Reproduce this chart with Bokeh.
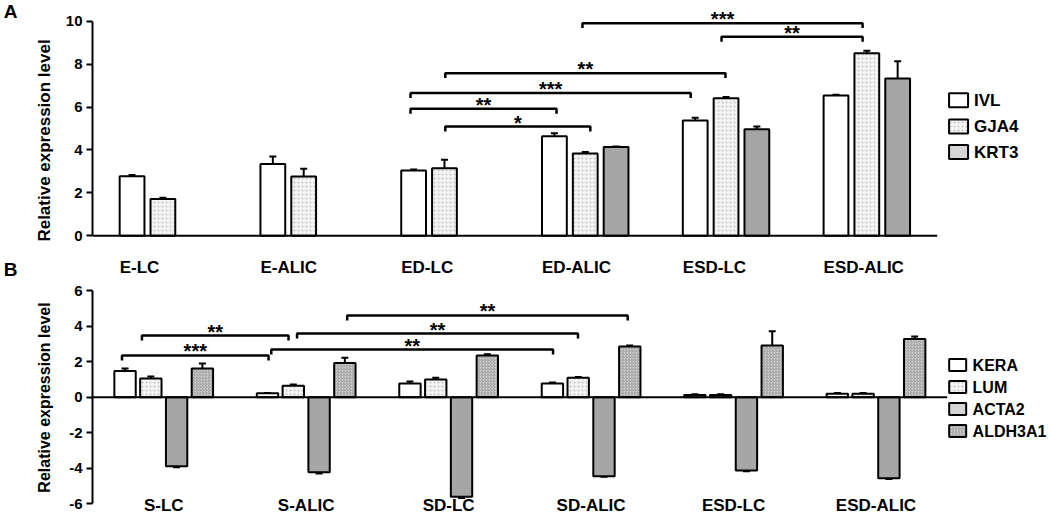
from bokeh.plotting import figure
from bokeh.models import (ColumnDataSource, Range1d, FixedTicker, Label, LinearAxis,
                          Whisker, TeeHead)
from bokeh.layouts import column
from bokeh.embed import file_html
from bokeh.resources import INLINE
from bokeh.core.properties import value

FONT = "Liberation Sans"

# ---------------- Panel A data ----------------
groups_a = ["E-LC", "E-ALIC", "ED-LC", "ED-ALIC", "ESD-LC", "ESD-ALIC"]
series_a = ["IVL", "GJA4", "KRT3"]
ivl = [2.78, 3.35, 3.04, 4.64, 5.37, 6.54]
ivl_err = [0.05, 0.35, 0.05, 0.14, 0.13, 0.03]
gja4 = [1.72, 2.76, 3.15, 3.83, 6.41, 8.51]
gja4_err = [0.05, 0.37, 0.39, 0.07, 0.06, 0.11]
krt3 = [None, None, None, 4.14, 4.97, 7.33]
krt3_err = [None, None, None, 0.02, 0.12, 0.80]
yticks_a = [0, 2, 4, 6, 8, 10]

sig_a_x0 = [2.006, 1.759, 1.759, 2.006, 2.98, 3.968]
sig_a_x1 = [3.036, 2.796, 3.749, 3.996, 4.97, 4.97]
sig_a_y = [5.09, 5.92, 6.65, 7.58, 9.91, 9.27]
sig_a_txt = ["*", "**", "***", "**", "***", "**"]

# ---------------- Panel B data ----------------
groups_b = ["S-LC", "S-ALIC", "SD-LC", "SD-ALIC", "ESD-LC", "ESD-ALIC"]
series_b = ["KERA", "LUM", "ACTA2", "ALDH3A1"]
kera = [1.47, 0.22, 0.77, 0.77, 0.13, 0.20]
kera_err = [0.14, 0.02, 0.12, 0.05, 0.03, 0.03]
lum = [1.05, 0.64, 1.00, 1.09, 0.13, 0.20]
lum_err = [0.12, 0.08, 0.10, 0.05, 0.03, 0.04]
acta2 = [-3.88, -4.22, -5.60, -4.44, -4.12, -4.56]
acta2_err = [0.06, 0.07, 0.07, 0.03, 0.05, 0.04]
aldh3a1 = [1.61, 1.92, 2.35, 2.85, 2.91, 3.28]
aldh3a1_err = [0.28, 0.30, 0.07, 0.06, 0.80, 0.14]
yticks_b = [-6, -4, -2, 0, 2, 4, 6]

sig_b_x0 = [-0.293, -0.153, 0.755, 0.936, 1.288]
sig_b_x1 = [0.736, 0.876, 2.733, 2.908, 3.257]
sig_b_y = [2.35, 3.47, 2.68, 3.58, 4.60]
sig_b_txt = ["***", "**", "**", "**", "**"]

panel_letters = ["A", "B"]

# ---------------- styles ----------------
WHITE = dict(fill_color="white")
DOTS = dict(fill_color="#f4f4f4", hatch_pattern="dot", hatch_color="#c4c4c4",
            hatch_scale=4, hatch_weight=1)
SOLID = dict(fill_color="#a6a6a6")
LIGHT = dict(fill_color="#d6d6d6")
HATCH = dict(fill_color="#d4d4d4", hatch_pattern="right_diagonal_line",
             hatch_color="#9a9a9a", hatch_scale=3, hatch_weight=1)

W = 1048


class Geo:
    """pixel <-> data helper for a panel (layout only)."""
    def __init__(self, x0_px, ppu_x, zero_py, ppu_y):
        self.x0_px, self.ppu_x = x0_px, ppu_x
        self.zero_py, self.ppu_y = zero_py, ppu_y

    def x(self, px):
        return (px - self.x0_px) / self.ppu_x - 0.5

    def y(self, py):
        return (self.zero_py - py) / self.ppu_y


def style_fig(p, yticks, title_size, standoff):
    p.xgrid.visible = False
    p.ygrid.visible = False
    p.xaxis.visible = False
    p.outline_line_color = None
    p.background_fill_color = "white"
    p.border_fill_color = "white"
    ax = p.yaxis[0]
    ax.ticker = FixedTicker(ticks=yticks)
    ax.major_label_overrides = {t: str(t) for t in yticks}
    ax.bounds = (yticks[0], yticks[-1])
    ax.axis_line_width = 2
    ax.major_tick_line_width = 2
    ax.major_tick_in = 0
    ax.major_tick_out = 6
    ax.minor_tick_line_color = None
    ax.major_label_standoff = 4
    ax.major_label_text_font = FONT
    ax.major_label_text_font_style = "bold"
    ax.major_label_text_font_size = "15px"
    ax.major_label_text_color = "black"
    ax.axis_label = "Relative expression level"
    ax.axis_label_text_font = FONT
    ax.axis_label_text_font_style = "bold"
    ax.axis_label_text_font_size = title_size
    ax.axis_label_text_color = "black"
    ax.axis_label_standoff = standoff


def add_series(p, vals, errs, offset, width, style):
    xs, tops, lo, hi = [], [], [], []
    for i, (v, e) in enumerate(zip(vals, errs)):
        if v is None:
            continue
        xs.append(i + offset)
        tops.append(v)
        lo.append(v - e)
        hi.append(v + e)
    src = ColumnDataSource(dict(x=xs, top=tops, lo=lo, hi=hi))
    p.vbar(x="x", top="top", bottom=0, width=width, source=src,
           line_color="black", line_width=2, **style)
    w = Whisker(base="x", upper="hi", lower="lo", source=src, dimension="height",
                line_width=2, line_color="black",
                upper_head=TeeHead(size=7, line_width=2, line_color="black"),
                lower_head=TeeHead(size=7, line_width=2, line_color="black"))
    p.add_layout(w)


def add_brackets(p, x0s, x1s, ys, txts, leg):
    xs = [[a, a, b, b] for a, b in zip(x0s, x1s)]
    yy = [[y - leg, y, y, y - leg] for y in ys]
    p.multi_line(xs=xs, ys=yy, line_color="black", line_width=2.5)
    src = ColumnDataSource(dict(x=[(a + b) / 2 for a, b in zip(x0s, x1s)], y=ys, t=txts))
    p.text(x="x", y="y", text="t", source=src, text_align="center",
           text_baseline="alphabetic", y_offset=-4, text_font=value(FONT),
           text_font_style="bold", text_font_size="20px", text_color="black")


def add_legend(p, g, names, styles, box_cx, text_x, centers_py, bw, bh, fs):
    for name, st, cy in zip(names, styles, centers_py):
        p.rect(x=[g.x(box_cx)], y=[g.y(cy)], width=bw, height=bh,
               width_units="screen", height_units="screen",
               line_color="black", line_width=2, **st)
        p.text(x=[g.x(text_x)], y=[g.y(cy)], text=[name], text_align="left",
               text_baseline="middle", text_font=value(FONT), text_font_style="bold",
               text_font_size=fs, text_color="black")


def text_label(p, x, y, t, align, size="17px"):
    p.add_layout(Label(x=x, y=y, text=t, text_align=align, text_baseline="middle",
                       text_font=FONT, text_font_style="bold", text_font_size=size,
                       text_color="black"))


# ================= Panel A =================
HA = 280
gA = Geo(x0_px=86, ppu_x=141.67, zero_py=235.3, ppu_y=21.46)
pA = figure(width=W, height=HA, output_backend="svg", toolbar_location=None,
            x_range=Range1d(gA.x(86), gA.x(W)), y_range=Range1d(gA.y(HA), gA.y(0)),
            min_border_left=86, min_border_right=0, min_border_top=0,
            min_border_bottom=0)
style_fig(pA, yticks_a, "17px", 9)

# panel letters through an extra (line-less) left axis
let_ax = LinearAxis(ticker=FixedTicker(ticks=[gA.y(9), gA.y(269)]),
                    major_label_overrides={gA.y(9): panel_letters[0],
                                           gA.y(269): panel_letters[1]},
                    axis_line_color=None, major_tick_line_color=None,
                    minor_tick_line_color=None, major_tick_in=0, major_tick_out=0,
                    major_label_standoff=14, major_label_text_font=FONT,
                    major_label_text_font_style="bold",
                    major_label_text_font_size="19px",
                    major_label_text_color="black")
pA.add_layout(let_ax, "left")

wa, pa = 0.176, 0.219
add_series(pA, ivl, ivl_err, -pa, wa, WHITE)
add_series(pA, gja4, gja4_err, 0.0, wa, DOTS)
add_series(pA, krt3, krt3_err, pa, wa, SOLID)
pA.segment(x0=[-0.5], y0=[0], x1=[len(groups_a) - 0.5], y1=[0],
           line_color="black", line_width=2)
add_brackets(pA, sig_a_x0, sig_a_x1, sig_a_y, sig_a_txt, 0.23)
add_legend(pA, gA, series_a, [WHITE, DOTS, LIGHT], 957.5, 973,
           [99.7, 126.0, 151.5], 19, 14, "17px")
for i, gname in enumerate(groups_a):
    text_label(pA, i - 0.307, gA.y(267), gname, "left")

# ================= Panel B =================
HB = 234
gB = Geo(x0_px=87, ppu_x=143.2, zero_py=396.7 - HA, ppu_y=17.78)
pB = figure(width=W, height=HB, output_backend="svg", toolbar_location=None,
            x_range=Range1d(gB.x(87), gB.x(W)), y_range=Range1d(gB.y(HB), gB.y(0)),
            min_border_left=87, min_border_right=0, min_border_top=0,
            min_border_bottom=0)
style_fig(pB, yticks_b, "16px", 13)

wb, pb = 0.15, 0.181
add_series(pB, kera, kera_err, -1.5 * pb, wb, WHITE)
add_series(pB, lum, lum_err, -0.5 * pb, wb, DOTS)
add_series(pB, acta2, acta2_err, 0.5 * pb, wb, SOLID)
add_series(pB, aldh3a1, aldh3a1_err, 1.5 * pb, wb, HATCH)
pB.segment(x0=[-0.5], y0=[0], x1=[len(groups_b) - 0.5], y1=[0],
           line_color="black", line_width=2)
add_brackets(pB, sig_b_x0, sig_b_x1, sig_b_y, sig_b_txt, 0.28)
add_legend(pB, gB, series_b, [WHITE, DOTS, LIGHT, HATCH], 956.7, 971.7,
           [364.5 - HA, 386.5 - HA, 408.5 - HA, 430.5 - HA], 17, 12, "16px")
for i, gname in enumerate(groups_b):
    text_label(pB, i, gB.y(505 - HA), gname, "center")

layout = column(pA, pB, spacing=0)
open("out.html", "w").write(file_html(layout, INLINE))
